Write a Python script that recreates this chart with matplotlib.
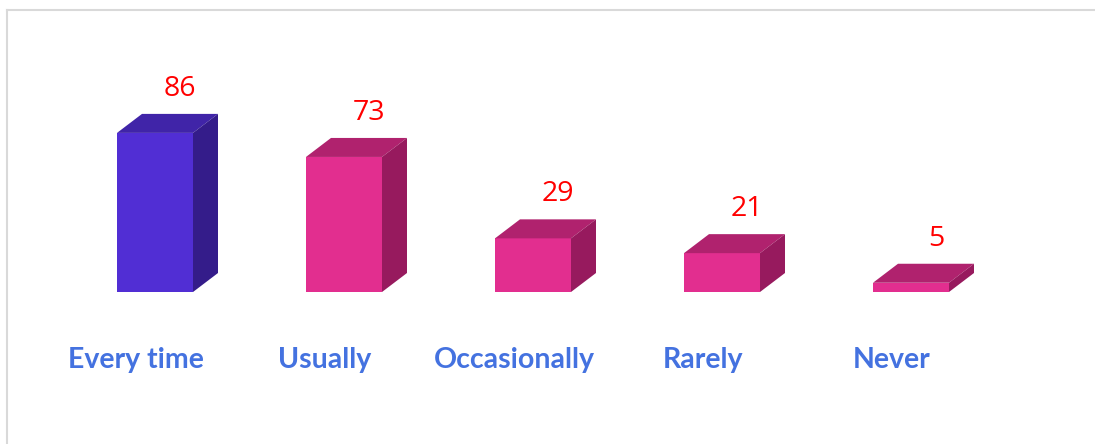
import matplotlib
matplotlib.use("Agg")
import matplotlib.pyplot as plt
from matplotlib.patches import Polygon
from matplotlib.lines import Line2D

categories = ["Every time", "Usually", "Occasionally", "Rarely", "Never"]
values = [86, 73, 29, 21, 5]

# front / top / side shades per bar
front_colors = ["#512ED4", "#E22E8F", "#E22E8F", "#E22E8F", "#E22E8F"]
top_colors = ["#4024A8", "#B0226E", "#B0226E", "#B0226E", "#B0226E"]
side_colors = ["#341C8A", "#971A5E", "#971A5E", "#971A5E", "#971A5E"]

W, H = 1095, 444
fig = plt.figure(figsize=(W / 100, H / 100), dpi=100)
ax = fig.add_axes([0, 0, 1, 1])
# 1 index unit = 189 px, 1 value unit = 1.85 px, baseline at y=292 px
ax.set_xlim(-155 / 189, (W - 155) / 189)
ax.set_ylim(-(H - 292) / 1.85, 292 / 1.85)
ax.axis("off")

bw = 76 / 189        # bar width
dx = 25 / 189        # depth offset x
dy = 19 / 1.85       # depth offset y

for i, v in enumerate(values):
    x0, x1 = i - bw / 2, i + bw / 2
    front = Polygon([(x0, 0), (x1, 0), (x1, v), (x0, v)], closed=True,
                    facecolor=front_colors[i], edgecolor="none")
    top = Polygon([(x0, v), (x1, v), (x1 + dx, v + dy), (x0 + dx, v + dy)],
                  closed=True, facecolor=top_colors[i], edgecolor="none")
    side = Polygon([(x1, 0), (x1 + dx, dy), (x1 + dx, v + dy), (x1, v)],
                   closed=True, facecolor=side_colors[i], edgecolor="none")
    for p in (front, top, side):
        ax.add_patch(p)
    ax.text(i + dx, v + dy + 6, str(v), ha="center", va="bottom",
            fontsize=20.5, color="#FF0000", family=["Open Sans", "DejaVu Sans"])
    ax.text(i - 19 / 189, -36.5, categories[i], ha="center", va="center",
            fontsize=20.5, fontweight="bold", color="#4472E0",
            family=["Lato", "DejaVu Sans"])

# light frame along top and left
fig.add_artist(Line2D([7 / W, 7 / W], [0, 1 - 10 / H], color="#D9D9D9", lw=1.5))
fig.add_artist(Line2D([7 / W, 1], [1 - 10 / H, 1 - 10 / H], color="#D9D9D9", lw=1.5))

fig.savefig("out.png", dpi=100)
